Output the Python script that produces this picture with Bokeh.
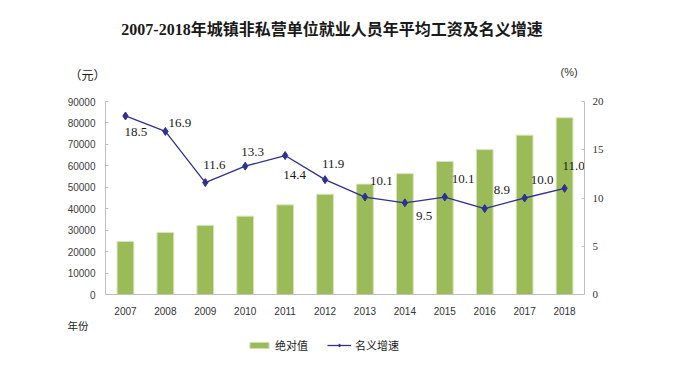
from bokeh.plotting import figure
from bokeh.models import (Range1d, LinearAxis, FixedTicker, NumeralTickFormatter,
                          ColumnDataSource, Label, Legend, LegendItem)
from bokeh.core.properties import value
from bokeh.embed import file_html
from bokeh.resources import INLINE

years = [2007, 2008, 2009, 2010, 2011, 2012, 2013, 2014, 2015, 2016, 2017, 2018]
year_labels = ["2007", "2008", "2009", "2010", "2011", "2012", "2013", "2014", "2015", "2016", "2017", "2018"]
wage = [24721, 28898, 32244, 36539, 41799, 46769, 51483, 56360, 62029, 67569, 74318, 82413]
growth = [18.5, 16.9, 11.6, 13.3, 14.4, 11.9, 10.1, 9.5, 10.1, 8.9, 10.0, 11.0]
growth_labels = ["18.5", "16.9", "11.6", "13.3", "14.4", "11.9", "10.1", "9.5", "10.1", "8.9", "10.0", "11.0"]
left_ticks = [0, 10000, 20000, 30000, 40000, 50000, 60000, 70000, 80000, 90000]
right_ticks = [0, 5, 10, 15, 20]
left_max = 90000
right_max = 20

# ---- layout (pixels) ----
W, H = 683, 372
PL, PR, PT, PB = 105, 584, 101, 294          # plot-area edges on the canvas
label_dx = [-1, 3, -2, -4, -2, -3, 5, 11, 7, 9, 6, -2]
label_dy = [16, -8, -18, -14, 19, -16, -16, 13, -18, -19, -18, -22]

GREEN = "#9BBB59"
NAVY = "#2E3192"
AXIS = "#BFBFBF"
CJK = "Noto Sans CJK SC"
TITLE_FONT = "'Liberation Serif', 'Noto Sans CJK SC'"

x0, x1 = years[0] - 0.5, years[-1] + 0.5
cw = (PR - PL) / (x1 - x0)
ppu_l = (PB - PT) / left_max
ppu_r = (PB - PT) / right_max

src = ColumnDataSource(dict(year=years, wage=wage, growth=growth, lab=growth_labels,
                            dx=label_dx, dy=label_dy))

p = figure(width=W, height=H,
           x_range=Range1d(x0 - PL / cw, x1 + (W - PR) / cw),
           y_range=Range1d(-(H - PB) / ppu_l, left_max + PT / ppu_l),
           x_axis_location=None, y_axis_location=None,
           output_backend="svg", toolbar_location=None,
           min_border=0, min_border_left=0, min_border_right=0, min_border_top=0, min_border_bottom=0)
p.extra_y_ranges = {"pct": Range1d(-(H - PB) / ppu_r, right_max + PT / ppu_r)}
p.outline_line_color = None
p.grid.visible = False
p.background_fill_color = "white"
p.border_fill_color = "white"

bars = p.vbar(x="year", top="wage", width=0.42, source=src, fill_color=GREEN,
              line_color="#D7E4BD", line_width=1)
line = p.line(x="year", y="growth", source=src, line_color=NAVY, line_width=1.3, y_range_name="pct")
pts = p.scatter(x="year", y="growth", source=src, marker="diamond", size=8, fill_color=NAVY,
                line_color=NAVY, y_range_name="pct")
p.text(x="year", y="growth", text="lab", source=src, y_range_name="pct", x_offset="dx", y_offset="dy",
       text_align="left", text_baseline="middle", text_font=value("Liberation Serif"),
       text_font_size="13px", text_color="#1a1a1a")

# left axis
ya = LinearAxis(fixed_location=x0, bounds=(0, left_max), ticker=FixedTicker(ticks=left_ticks),
                formatter=NumeralTickFormatter(format="0"))
ya.axis_line_color = AXIS
ya.major_tick_line_color = AXIS
ya.major_tick_in = 3
ya.major_tick_out = 0
ya.minor_tick_line_color = None
ya.major_label_standoff = 10
ya.major_label_text_font = "Liberation Sans"
ya.major_label_text_font_size = "10px"
ya.major_label_text_color = "#404040"
p.add_layout(ya, "left")

# right axis
ra = LinearAxis(y_range_name="pct", fixed_location=x1, bounds=(0, right_max),
                ticker=FixedTicker(ticks=right_ticks))
ra.axis_line_color = AXIS
ra.major_tick_line_color = AXIS
ra.major_tick_in = 3
ra.major_tick_out = 0
ra.minor_tick_line_color = None
ra.major_label_standoff = 8
ra.major_label_text_font = "Liberation Serif"
ra.major_label_text_font_size = "11px"
ra.major_label_text_color = "#333333"
p.add_layout(ra, "right")

# bottom axis
xa = LinearAxis(fixed_location=0, bounds=(x0, x1), ticker=FixedTicker(ticks=years),
                major_label_overrides={y: s for y, s in zip(years, year_labels)})
xa.axis_line_color = AXIS
xa.major_tick_line_color = None
xa.major_tick_in = 0
xa.major_tick_out = 0
xa.minor_tick_line_color = None
xa.major_label_standoff = 12
xa.major_label_text_font = "Liberation Sans"
xa.major_label_text_font_size = "10px"
xa.major_label_text_color = "#333333"
p.add_layout(xa, "below")

# texts (screen coords from the canvas bottom-left)
p.add_layout(Label(x=331.5, y=H - 29, x_units="screen", y_units="screen",
                   text="2007-2018年城镇非私营单位就业人员年平均工资及名义增速",
                   text_align="center", text_baseline="middle", text_font=TITLE_FONT,
                   text_font_size="16px", text_font_style="bold", text_color="#1a1a1a"))
p.add_layout(Label(x=69, y=H - 74, x_units="screen", y_units="screen", text="（元）",
                   text_align="left", text_baseline="middle", text_font=CJK,
                   text_font_size="12px", text_color="#1a1a1a"))
p.add_layout(Label(x=560, y=H - 71, x_units="screen", y_units="screen", text="(%)",
                   text_align="left", text_baseline="middle", text_font="Liberation Sans",
                   text_font_size="11px", text_color="#333333"))
p.add_layout(Label(x=67, y=H - 325, x_units="screen", y_units="screen", text="年份",
                   text_align="left", text_baseline="middle", text_font=CJK,
                   text_font_size="10.5px", text_color="#1a1a1a"))

legend = Legend(items=[LegendItem(label="绝对值", renderers=[bars]),
                       LegendItem(label="名义增速", renderers=[line, pts])],
                location=(247, H - 353), orientation="horizontal", padding=0, margin=0,
                spacing=19, glyph_width=24, glyph_height=8, label_standoff=4,
                label_text_font=CJK, label_text_font_size="11px", label_text_color="#1a1a1a",
                border_line_color=None, background_fill_alpha=0)
p.add_layout(legend, "center")

open("out.html", "w").write(file_html(p, INLINE))
